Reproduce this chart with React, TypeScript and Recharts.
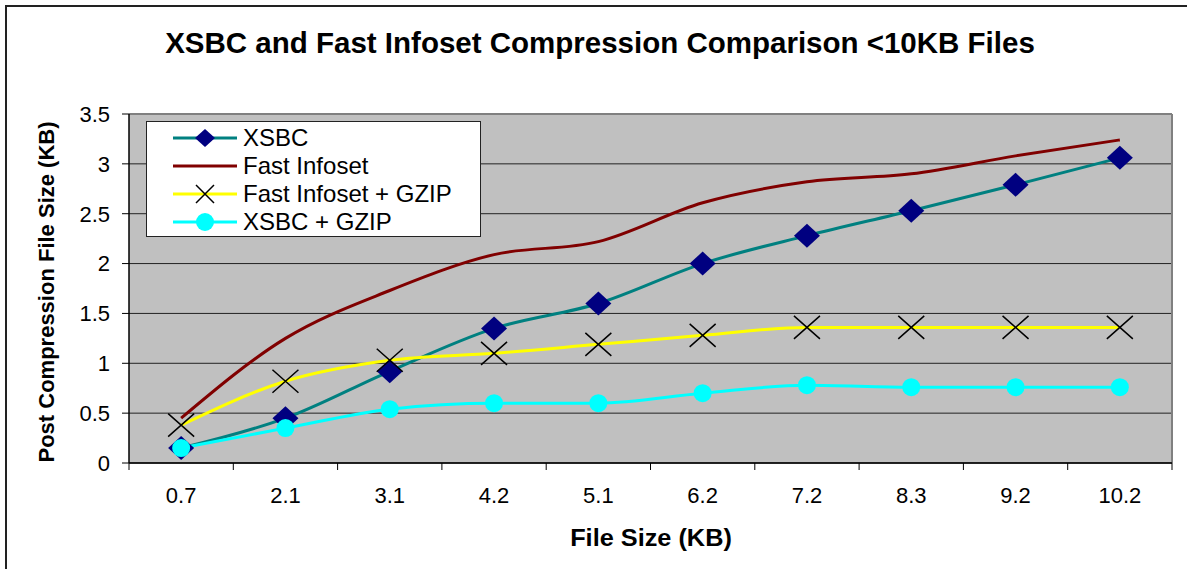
import React from 'react';
import { LineChart, Line, XAxis, YAxis, CartesianGrid, Legend, ReferenceLine } from 'recharts';

const fileSizes = ['0.7', '2.1', '3.1', '4.2', '5.1', '6.2', '7.2', '8.3', '9.2', '10.2'];
const xsbc = [0.15, 0.45, 0.92, 1.35, 1.6, 2.0, 2.28, 2.53, 2.79, 3.06];
const fastInfoset = [0.45, 1.25, 1.73, 2.09, 2.22, 2.61, 2.82, 2.9, 3.08, 3.24];
const fastInfosetGzip = [0.38, 0.82, 1.03, 1.1, 1.19, 1.28, 1.36, 1.36, 1.36, 1.36];
const xsbcGzip = [0.15, 0.35, 0.54, 0.6, 0.6, 0.7, 0.78, 0.76, 0.76, 0.76];
const yTicks = [0, 0.5, 1, 1.5, 2, 2.5, 3, 3.5];

// numeric x so tick marks can sit on the band edges like Excel
const data = fileSizes.map((label, i) => ({
  pos: i + 0.5,
  label,
  xsbc: xsbc[i],
  fi: fastInfoset[i],
  fiGzip: fastInfosetGzip[i],
  xsbcGzip: xsbcGzip[i],
}));
const xTicks = Array.from({ length: 21 }, (_, i) => i / 2);

const FONT = '"Liberation Sans", Arial, sans-serif';

const Diamond = ({ cx, cy, w = 13, h = 12 }: any) => (
  <path d={`M${cx},${cy - h} L${cx + w},${cy} L${cx},${cy + h} L${cx - w},${cy} Z`} fill="#000080" />
);

const Cross = ({ cx, cy, w = 13, h = 11.5 }: any) => (
  <path d={`M${cx - w},${cy - h} L${cx + w},${cy + h} M${cx - w},${cy + h} L${cx + w},${cy - h}`} stroke="#000" strokeWidth={1.5} fill="none" />
);

const XTick = ({ x, y, payload }: any) => {
  const v = payload.value;
  if (Number.isInteger(v)) {
    return <line x1={x} x2={x} y1={y} y2={y + 7} stroke="#000" />;
  }
  return (
    <text x={x} y={y + 40} textAnchor="middle" fontSize={22} fontFamily={FONT} fill="#000">
      {fileSizes[Math.floor(v)]}
    </text>
  );
};

const legendItems = [
  { name: 'XSBC', color: '#008080', marker: 'diamond' },
  { name: 'Fast Infoset', color: '#800000', marker: 'none' },
  { name: 'Fast Infoset + GZIP', color: '#FFFF00', marker: 'cross' },
  { name: 'XSBC + GZIP', color: '#00FFFF', marker: 'circle' },
];

const LegendBox = () => (
  <div style={{ width: 335, height: 116, background: '#fff', border: '1.5px solid #222', boxSizing: 'border-box', paddingTop: 2 }}>
    {legendItems.map((it) => (
      <div key={it.name} style={{ display: 'flex', alignItems: 'center', height: 28 }}>
        <svg width={96} height={28}>
          <line x1={26} x2={90} y1={14} y2={14} stroke={it.color} strokeWidth={3} />
          {it.marker === 'diamond' && <Diamond cx={58} cy={14} w={10} h={9} />}
          {it.marker === 'cross' && <Cross cx={58} cy={14} w={9} h={9} />}
          {it.marker === 'circle' && <circle cx={58} cy={14} r={9} fill="#00FFFF" />}
        </svg>
        <span style={{ fontFamily: FONT, fontSize: 24, color: '#000', lineHeight: '28px' }}>{it.name}</span>
      </div>
    ))}
  </div>
);

export default function App() {
  return (
    <div style={{ position: 'absolute', left: 0, top: 0, width: 1187, height: 569, background: '#fff', overflow: 'hidden' }}>
      <div style={{ position: 'absolute', left: 5, top: 5, width: 1200, height: 600, borderTop: '2px solid #222', borderLeft: '2px solid #222' }} />
      <div style={{ position: 'absolute', left: 100, width: 1000, top: 26, textAlign: 'center', fontFamily: FONT, fontWeight: 'bold', fontSize: 29.5, lineHeight: '34px' }}>
        XSBC and Fast Infoset Compression Comparison &lt;10KB Files
      </div>
      <div style={{ position: 'absolute', left: 47 - 250, top: 292 - 15, width: 500, textAlign: 'center', transform: 'rotate(-90deg)', fontFamily: FONT, fontWeight: 'bold', fontSize: 22, lineHeight: '30px' }}>
        Post Compression File Size (KB)
      </div>
      <div style={{ position: 'absolute', left: 400, width: 502, top: 523, textAlign: 'center', fontFamily: FONT, fontWeight: 'bold', fontSize: 23, lineHeight: '30px', transform: 'scaleX(1.1)' }}>
        File Size (KB)
      </div>
      <LineChart width={1187} height={569} data={data} margin={{ top: 114, right: 15, left: 69, bottom: 46 }} style={{ position: 'absolute', left: 0, top: 0 }}>
        <CartesianGrid horizontal vertical={false} fill="#C0C0C0" stroke="#222" fillOpacity={1} />
        <XAxis
          type="number"
          dataKey="pos"
          domain={[0, 10]}
          ticks={xTicks}
          interval={0}
          height={60}
          tickSize={0}
          tickMargin={0}
          tickLine={false}
          axisLine={{ stroke: '#000', strokeWidth: 1.5 }}
          tick={<XTick />}
        />
        <YAxis
          domain={[0, 3.5]}
          ticks={yTicks}
          interval={0}
          width={60}
          tickSize={7}
          tickMargin={12}
          axisLine={{ stroke: '#000', strokeWidth: 1.5 }}
          tickLine={{ stroke: '#000' }}
          tick={{ fill: '#000', fontSize: 22, fontFamily: FONT }}
        />
        <ReferenceLine y={3.5} stroke="#808080" strokeWidth={2} />
        <ReferenceLine x={10} stroke="#808080" strokeWidth={2} />
        <Legend
          layout="vertical"
          align="center"
          verticalAlign="middle"
          wrapperStyle={{ position: 'absolute', left: 146, top: 121, width: 335, height: 116 }}
          content={() => <LegendBox />}
        />
        <Line
          type="monotone"
          dataKey="xsbc"
          name="XSBC"
          stroke="#008080"
          strokeWidth={3}
          isAnimationActive={false}
          dot={(p: any) => <Diamond key={`d${p.index}`} cx={p.cx} cy={p.cy} />}
        />
        <Line
          type="monotone"
          dataKey="fi"
          name="Fast Infoset"
          stroke="#800000"
          strokeWidth={3}
          isAnimationActive={false}
          dot={false}
        />
        <Line
          type="monotone"
          dataKey="fiGzip"
          name="Fast Infoset + GZIP"
          stroke="#FFFF00"
          strokeWidth={3}
          isAnimationActive={false}
          dot={(p: any) => <Cross key={`c${p.index}`} cx={p.cx} cy={p.cy} />}
        />
        <Line
          type="monotone"
          dataKey="xsbcGzip"
          name="XSBC + GZIP"
          stroke="#00FFFF"
          strokeWidth={3}
          isAnimationActive={false}
          dot={{ r: 9, fill: '#00FFFF', stroke: '#00FFFF', strokeWidth: 0 }}
        />
      </LineChart>
    </div>
  );
}
